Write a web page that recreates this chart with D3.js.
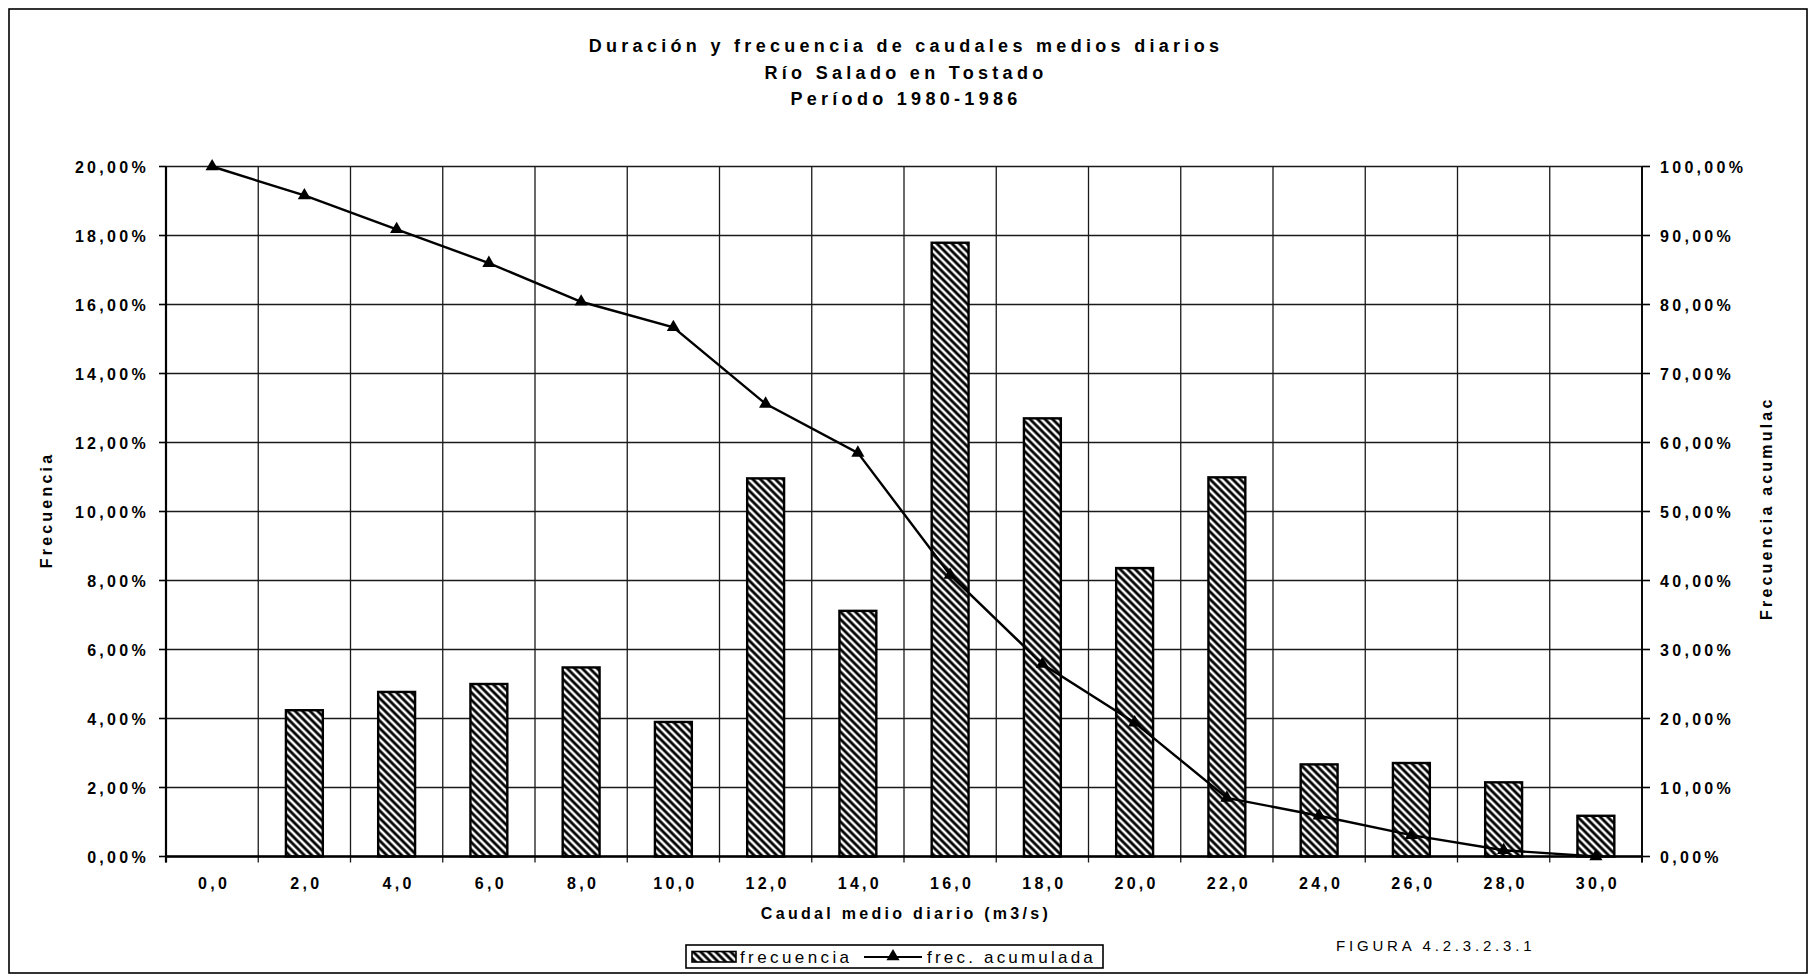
<!DOCTYPE html>
<html>
<head>
<meta charset="utf-8">
<script src="https://cdn.jsdelivr.net/npm/d3@7"></script>
<style>
  html, body { margin: 0; padding: 0; background: #fff; }
  svg { display: block; }
  text { font-family: "Liberation Sans", Arial, sans-serif; fill: #000; }
</style>
</head>
<body>
<script>
// ---------- data ----------
const categories = ["0,0","2,0","4,0","6,0","8,0","10,0","12,0","14,0","16,0","18,0","20,0","22,0","24,0","26,0","28,0","30,0"];
const frecuencia = [0, 4.24, 4.77, 5.00, 5.48, 3.90, 10.96, 7.12, 17.79, 12.70, 8.36, 10.99, 2.67, 2.71, 2.15, 1.18];      // %
const frecAcumulada = [100, 95.8, 90.9, 86.0, 80.4, 76.7, 65.6, 58.5, 40.8, 27.9, 19.4, 8.5, 5.9, 3.1, 0.9, 0];          // %
const leftTicks = [0, 2, 4, 6, 8, 10, 12, 14, 16, 18, 20];
const rightTicks = [0, 10, 20, 30, 40, 50, 60, 70, 80, 90, 100];
const titleLines = ["Duración y frecuencia de caudales medios diarios", "Río Salado en Tostado", "Período 1980-1986"];

// ---------- layout ----------
const W = 1812, H = 976;
const plot = { left: 166, right: 1642, top: 166.5, bottom: 856.5 };

const svg = d3.select("body").append("svg").attr("width", W).attr("height", H);

const defs = svg.append("defs");
const P = 5.3;
const pat = defs.append("pattern").attr("id", "hatch")
  .attr("patternUnits", "userSpaceOnUse")
  .attr("width", P).attr("height", P)
  .attr("patternTransform", "rotate(-45)");
pat.append("rect").attr("width", P).attr("height", P).attr("fill", "#fff");
pat.append("line").attr("x1", P / 2).attr("y1", 0).attr("x2", P / 2).attr("y2", P)
  .attr("stroke", "#000").attr("stroke-width", 2.8);

// outer border
svg.append("rect").attr("x", 9).attr("y", 9).attr("width", 1798).attr("height", 964)
  .attr("fill", "none").attr("stroke", "#000").attr("stroke-width", 1.6);

// scales
const x = d3.scaleBand().domain(categories).range([plot.left, plot.right])
  .paddingInner(0.6).paddingOuter(0.3);
const step = x.step();
const yL = d3.scaleLinear().domain([0, 20]).range([plot.bottom, plot.top]);
const yR = d3.scaleLinear().domain([0, 100]).range([plot.bottom, plot.top]);
const fmtPct = v => d3.format(".2f")(v).replace(".", ",") + "%";

// grid lines
const g = svg.append("g");
g.selectAll(".hg").data(leftTicks).join("line")
  .attr("x1", plot.left).attr("x2", plot.right)
  .attr("y1", d => yL(d)).attr("y2", d => yL(d))
  .attr("stroke", "#1a1a1a").attr("stroke-width", 1.3);
const boundaries = d3.range(categories.length + 1);
g.selectAll(".vg").data(boundaries).join("line")
  .attr("x1", i => x.range()[0] + i * step).attr("x2", i => x.range()[0] + i * step)
  .attr("y1", plot.top).attr("y2", plot.bottom + 6)
  .attr("stroke", "#1a1a1a").attr("stroke-width", 1.3);

// bars
svg.append("g").selectAll("rect").data(frecuencia.map((v, i) => ({ c: categories[i], v })).filter(d => d.v > 0))
  .join("rect")
  .attr("x", d => x(d.c)).attr("width", x.bandwidth())
  .attr("y", d => yL(d.v)).attr("height", d => yL(0) - yL(d.v))
  .attr("fill", "url(#hatch)").attr("stroke", "#000").attr("stroke-width", 2.4);

// axes lines
svg.append("line").attr("x1", plot.left).attr("x2", plot.right).attr("y1", plot.bottom).attr("y2", plot.bottom)
  .attr("stroke", "#000").attr("stroke-width", 2.4);
svg.append("line").attr("x1", plot.left).attr("x2", plot.left).attr("y1", plot.top).attr("y2", plot.bottom + 6)
  .attr("stroke", "#000").attr("stroke-width", 2.2);
svg.append("line").attr("x1", plot.right).attr("x2", plot.right).attr("y1", plot.top).attr("y2", plot.bottom + 6)
  .attr("stroke", "#000").attr("stroke-width", 1.8);

const labelStyle = sel => sel.style("font-size", "16px").style("letter-spacing", "3.3px").style("font-weight", "bold");

// left axis ticks + labels
const la = svg.append("g");
la.selectAll("line").data(leftTicks).join("line")
  .attr("x1", plot.left - 7).attr("x2", plot.left).attr("y1", d => yL(d)).attr("y2", d => yL(d))
  .attr("stroke", "#000").attr("stroke-width", 1.6);
la.selectAll("text").data(leftTicks).join("text")
  .attr("x", 149).attr("y", d => yL(d) + 6).attr("text-anchor", "end")
  .call(labelStyle)
  .text(d => fmtPct(d));

// right axis ticks + labels
const ra = svg.append("g");
ra.selectAll("line").data(rightTicks).join("line")
  .attr("x1", plot.right).attr("x2", plot.right + 8).attr("y1", d => yR(d)).attr("y2", d => yR(d))
  .attr("stroke", "#000").attr("stroke-width", 1.6);
ra.selectAll("text").data(rightTicks).join("text")
  .attr("x", 1660).attr("y", d => yR(d) + 6).attr("text-anchor", "start")
  .call(labelStyle)
  .text(d => fmtPct(d));

// x tick labels
svg.append("g").selectAll("text").data(categories).join("text")
  .attr("x", d => x(d) + x.bandwidth() / 2 + 2).attr("y", 889).attr("text-anchor", "middle")
  .call(labelStyle)
  .text(d => d);

// cumulative line
const pts = frecAcumulada.map((v, i) => [x(categories[i]) + x.bandwidth() / 2, yR(v)]);
svg.append("path").attr("d", d3.line()(pts)).attr("fill", "none").attr("stroke", "#000").attr("stroke-width", 2.4);
const tri = d3.symbol().type(d3.symbolTriangle).size(75);
svg.append("g").selectAll("path").data(pts).join("path")
  .attr("transform", d => `translate(${d[0]},${d[1]})`).attr("d", tri).attr("fill", "#000");

// titles
svg.append("g").selectAll("text").data(titleLines).join("text")
  .attr("x", 906).attr("y", (d, i) => 52 + i * 26.5).attr("text-anchor", "middle")
  .style("font-size", "18px").style("font-weight", "bold").style("letter-spacing", "4.3px")
  .text(d => d);

svg.append("text").attr("x", 906).attr("y", 919).attr("text-anchor", "middle")
  .style("font-size", "16px").style("font-weight", "bold").style("letter-spacing", "3.3px")
  .text("Caudal medio diario (m3/s)");

svg.append("text").attr("transform", "translate(52,510) rotate(-90)").attr("text-anchor", "middle")
  .style("font-size", "16px").style("font-weight", "bold").style("letter-spacing", "3.2px")
  .text("Frecuencia");

svg.append("text").attr("transform", "translate(1772,620) rotate(-90)").attr("text-anchor", "start")
  .style("font-size", "16px").style("font-weight", "bold").style("letter-spacing", "3.2px")
  .text("Frecuencia acumulac");

svg.append("text").attr("x", 1336).attr("y", 951).attr("text-anchor", "start")
  .style("font-size", "15px").style("letter-spacing", "3.8px")
  .text("FIGURA 4.2.3.2.3.1");

// legend
const lg = svg.append("g");
lg.append("rect").attr("x", 686).attr("y", 945).attr("width", 417).attr("height", 23)
  .attr("fill", "#fff").attr("stroke", "#000").attr("stroke-width", 1.6);
lg.append("rect").attr("x", 692).attr("y", 951.5).attr("width", 44).attr("height", 10.5)
  .attr("fill", "url(#hatch)").attr("stroke", "#000").attr("stroke-width", 1.6);
lg.append("text").attr("x", 740).attr("y", 962.5).style("font-size", "17px").style("letter-spacing", "3.4px")
  .text("frecuencia");
lg.append("line").attr("x1", 864).attr("x2", 922).attr("y1", 957).attr("y2", 957)
  .attr("stroke", "#000").attr("stroke-width", 2);
lg.append("path").attr("transform", "translate(893,956.5)").attr("d", tri).attr("fill", "#000");
lg.append("text").attr("x", 927).attr("y", 962.5).style("font-size", "17px").style("letter-spacing", "3.2px")
  .text("frec. acumulada");
</script>
</body>
</html>
